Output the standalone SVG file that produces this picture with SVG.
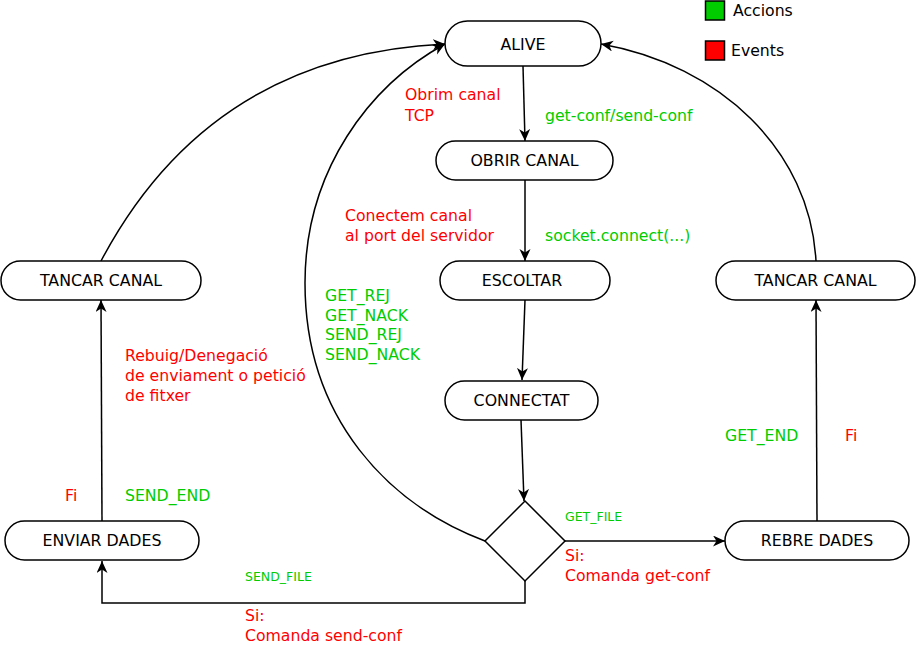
<svg xmlns="http://www.w3.org/2000/svg" width="916" height="645" viewBox="0 0 916 645">
<defs>
<marker id="arr" markerUnits="userSpaceOnUse" markerWidth="14" markerHeight="12" refX="12" refY="5.5" orient="auto">
<path d="M0,0 L12,5.5 L0,11 L3.5,5.5 Z" fill="#000"/>
</marker>
<style>
.node rect, .node path { fill: #fff; stroke: #000; stroke-width: 1.5; }
.nt { font-family: "DejaVu Sans", sans-serif; font-size: 15.8px; fill: #000; text-anchor: middle; }
.conn path { fill: none; stroke: #000; stroke-width: 1.5; }
.a { marker-end: url(#arr); }
.lbl { font-family: "DejaVu Sans", sans-serif; font-size: 15.7px; }
.sm { font-size: 12.5px; }
.g { fill: #00cc00; }
.r { fill: #ff0000; }
</style>
</defs>
<rect width="916" height="645" fill="#fff"/>

<g id="connectors" class="conn">
<path class="a" d="M523,66 L525,141"/>
<path class="a" d="M525,180 L525,261"/>
<path class="a" d="M525,300 L522,380"/>
<path class="a" d="M521,420 L524,501"/>
<path class="a" d="M565,541 L725,541"/>
<path class="a" d="M525,581 L525,603 L102,603 L102,561"/>
<path class="a" d="M817,521 L816,300"/>
<path class="a" d="M102,521 L101,300"/>
<path class="a" d="M816,261 C810,150 720,65 601,44"/>
<path class="a" d="M101,261 Q210,55 445,44"/>
<path class="a" d="M485,541 C390,505 305,420 305,283 C305,170 370,85 445,44"/>
</g>

<g id="alive" class="node"><rect x="445" y="21" width="156" height="45" rx="22.5"/><text class="nt" x="523" y="50">ALIVE</text></g>
<g id="obrir" class="node"><rect x="436" y="141" width="177" height="39" rx="19.5"/><text class="nt" x="524.5" y="166">OBRIR CANAL</text></g>
<g id="escoltar" class="node"><rect x="440" y="261" width="170" height="39" rx="19.5"/><text class="nt" x="522" y="286">ESCOLTAR</text></g>
<g id="connectat" class="node"><rect x="445" y="381" width="153" height="39" rx="19.5"/><text class="nt" x="521.5" y="406">CONNECTAT</text></g>
<g id="tancar-left" class="node"><rect x="1" y="261" width="200" height="39" rx="19.5"/><text class="nt" x="101" y="286">TANCAR CANAL</text></g>
<g id="tancar-right" class="node"><rect x="716" y="261" width="199" height="39" rx="19.5"/><text class="nt" x="815.5" y="286">TANCAR CANAL</text></g>
<g id="enviar" class="node"><rect x="5" y="521" width="194" height="39" rx="19.5"/><text class="nt" x="102" y="546">ENVIAR DADES</text></g>
<g id="rebre" class="node"><rect x="725" y="521" width="184" height="39" rx="19.5"/><text class="nt" x="817" y="546">REBRE DADES</text></g>
<g id="decision" class="node"><path d="M525,501 L565,541 L525,581 L485,541 Z"/></g>

<g id="legend">
<rect x="705.5" y="1" width="19" height="19" fill="#00cc00" stroke="#000" stroke-width="1.5"/>
<text class="lbl" x="733" y="16" fill="#000">Accions</text>
<rect x="705.5" y="41" width="19" height="19" fill="#ff0000" stroke="#000" stroke-width="1.5"/>
<text class="lbl" x="731" y="56" fill="#000">Events</text>
</g>

<g id="labels" class="lbl">
<text class="r" x="405" y="100">Obrim canal</text>
<text class="r" x="405" y="121">TCP</text>
<text class="g" x="545" y="121">get-conf/send-conf</text>
<text class="r" x="345" y="221">Conectem canal</text>
<text class="r" x="345" y="241">al port del servidor</text>
<text class="g" x="545" y="241">socket.connect(...)</text>
<text class="g" x="325" y="301">GET_REJ</text>
<text class="g" x="325" y="321">GET_NACK</text>
<text class="g" x="325" y="340">SEND_REJ</text>
<text class="g" x="325" y="360">SEND_NACK</text>
<text class="r" x="125" y="361">Rebuig/Denegació</text>
<text class="r" x="125" y="381">de enviament o petició</text>
<text class="r" x="125" y="401">de fitxer</text>
<text class="r" x="65" y="501">Fi</text>
<text class="g" x="125" y="501">SEND_END</text>
<text class="g" x="725" y="441">GET_END</text>
<text class="r" x="845" y="441">Fi</text>
<text class="g sm" x="565" y="521">GET_FILE</text>
<text class="r" x="565" y="561">Si:</text>
<text class="r" x="565" y="581">Comanda get-conf</text>
<text class="g sm" x="245" y="581">SEND_FILE</text>
<text class="r" x="245" y="621">Si:</text>
<text class="r" x="245" y="641">Comanda send-conf</text>
</g>
</svg>
